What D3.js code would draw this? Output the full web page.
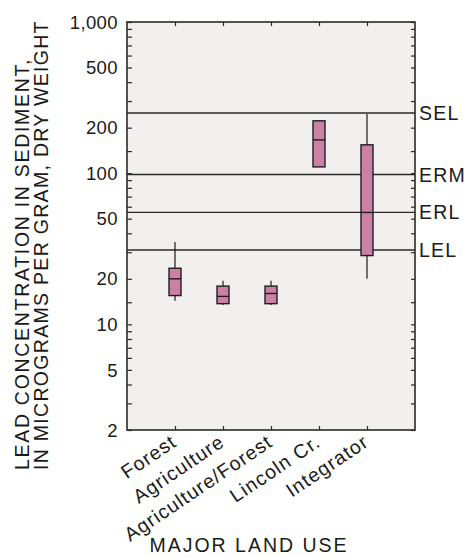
<!DOCTYPE html>
<html>
<head>
<meta charset="utf-8">
<script src="https://cdn.jsdelivr.net/npm/d3@7"></script>
<style>
  html, body { margin: 0; padding: 0; background: #ffffff; }
  svg { display: block; }
  text { font-family: "Liberation Sans", Arial, Helvetica, sans-serif; fill: #1a1a1a; }
</style>
</head>
<body>
<svg id="chart" width="467" height="558"></svg>
<script>
// Lead concentration in sediment by major land use (box plots, log scale)
const categories = ["Forest", "Agriculture", "Agriculture/Forest", "Lincoln Cr.", "Integrator"];
const whiskerLow  = [14.3, 13.4, 13.4, null, 20];
const quartile1   = [15.5, 13.7, 13.7, 110, 28.5];
const medians     = [20, 15.3, 16, 166, 55];
const quartile3   = [23.5, 17.9, 17.9, 222, 154];
const whiskerHigh = [35, 19.4, 19.4, null, 246];

// Sediment quality guideline levels
const guideNames  = ["SEL", "ERM", "ERL", "LEL"];
const guideValues = [250, 98, 55, 31];

// Axis ticks
const yTickValues = [2, 5, 10, 20, 50, 100, 200, 500, 1000];
const yTickLabels = ["2", "5", "10", "20", "50", "100", "200", "500", "1,000"];
const yMinorTicks = [3, 4, 6, 7, 8, 9, 14, 30, 40, 60, 70, 80, 90, 140, 300, 400, 600, 700, 800, 900];

// Axis titles
const yTitleLines = ["LEAD CONCENTRATION IN SEDIMENT,", "IN MICROGRAMS PER GRAM, DRY WEIGHT"];
const xTitle = "MAJOR LAND USE";

const svg = d3.select("#chart");
const plot = { left: 127, right: 415, top: 22, bottom: 430 };

const y = d3.scaleLog().domain([2, 1000]).range([plot.bottom, plot.top]);
const x = d3.scaleLinear().domain([0, categories.length + 1]).range([plot.left, plot.right]);
const xPos = (i) => x(i + 1);

// plot background
svg.append("rect")
  .attr("x", plot.left).attr("y", plot.top)
  .attr("width", plot.right - plot.left).attr("height", plot.bottom - plot.top)
  .attr("fill", "#f1f0ee");

// guideline lines
svg.append("g").selectAll("line").data(guideValues).join("line")
  .attr("x1", plot.left).attr("x2", plot.right)
  .attr("y1", d => y(d)).attr("y2", d => y(d))
  .attr("stroke", "#2a2a2a").attr("stroke-width", 1.4);

// guideline labels on the right
svg.append("g").selectAll("text").data(guideNames).join("text")
  .attr("x", plot.right + 4)
  .attr("y", (d, i) => y(guideValues[i]))
  .attr("dy", "0.36em")
  .attr("font-size", 19.5)
  .attr("letter-spacing", 1.2)
  .text(d => d);

// boxes
const boxW = 12;
const boxes = svg.append("g");
categories.forEach((c, i) => {
  const cx = xPos(i);
  if (whiskerHigh[i] != null) {
    boxes.append("line")
      .attr("x1", cx).attr("x2", cx)
      .attr("y1", y(whiskerHigh[i])).attr("y2", y(quartile3[i]))
      .attr("stroke", "#1a1a1a").attr("stroke-width", 1.2);
  }
  if (whiskerLow[i] != null) {
    boxes.append("line")
      .attr("x1", cx).attr("x2", cx)
      .attr("y1", y(quartile1[i])).attr("y2", y(whiskerLow[i]))
      .attr("stroke", "#1a1a1a").attr("stroke-width", 1.2);
  }
  boxes.append("rect")
    .attr("x", cx - boxW / 2).attr("width", boxW)
    .attr("y", y(quartile3[i])).attr("height", y(quartile1[i]) - y(quartile3[i]))
    .attr("fill", "#cc80a7").attr("stroke", "#1e1e1e").attr("stroke-width", 1.4);
  boxes.append("line")
    .attr("x1", cx - boxW / 2).attr("x2", cx + boxW / 2)
    .attr("y1", y(medians[i])).attr("y2", y(medians[i]))
    .attr("stroke", "#1e1e1e").attr("stroke-width", 1.4);
});

// left axis: labels and inward ticks
const yLeft = d3.axisRight(y).tickValues(yTickValues.concat(yMinorTicks)).tickSize(5).tickFormat("");
svg.append("g").attr("transform", `translate(${plot.left},0)`).call(yLeft)
  .call(g => g.select(".domain").remove())
  .selectAll("line").attr("stroke", "#2a2a2a").attr("stroke-width", 1.2);

svg.append("g").selectAll("text").data(yTickValues).join("text")
  .attr("x", plot.left - 9)
  .attr("y", d => y(d))
  .attr("dy", "0.36em")
  .attr("text-anchor", "end")
  .attr("font-size", 18.5)
  .attr("letter-spacing", 0.4)
  .text((d, i) => yTickLabels[i]);

// right axis inward ticks
const yRight = d3.axisLeft(y).tickValues(yTickValues.concat(yMinorTicks)).tickSize(4).tickFormat("");
svg.append("g").attr("transform", `translate(${plot.right},0)`).call(yRight)
  .call(g => g.select(".domain").remove())
  .selectAll("line").attr("stroke", "#2a2a2a").attr("stroke-width", 1.2);

// top and bottom inward ticks at categories
const xTicks = categories.map((c, i) => i + 1);
svg.append("g").attr("transform", `translate(0,${plot.bottom})`)
  .call(d3.axisTop(x).tickValues(xTicks).tickSize(4).tickFormat(""))
  .call(g => g.select(".domain").remove())
  .selectAll("line").attr("stroke", "#2a2a2a").attr("stroke-width", 1.2);
svg.append("g").attr("transform", `translate(0,${plot.top})`)
  .call(d3.axisBottom(x).tickValues(xTicks).tickSize(4).tickFormat(""))
  .call(g => g.select(".domain").remove())
  .selectAll("line").attr("stroke", "#2a2a2a").attr("stroke-width", 1.2);

// frame
svg.append("rect")
  .attr("x", plot.left).attr("y", plot.top)
  .attr("width", plot.right - plot.left).attr("height", plot.bottom - plot.top)
  .attr("fill", "none").attr("stroke", "#2a2a2a").attr("stroke-width", 1.6);

// category labels, rotated
svg.append("g").selectAll("text").data(categories).join("text")
  .attr("transform", (d, i) => `translate(${xPos(i) + 3},${plot.bottom + 15}) rotate(-34)`)
  .attr("text-anchor", "end")
  .attr("font-size", 19.5)
  .attr("letter-spacing", 1.1)
  .text(d => d);

// x-axis title
svg.append("text")
  .attr("x", 249).attr("y", 552)
  .attr("text-anchor", "middle")
  .attr("font-size", 19.5)
  .attr("letter-spacing", 2)
  .text(xTitle);

// y-axis title (two lines, starting from the bottom)
const yTitle = svg.append("text")
  .attr("transform", "translate(0,470) rotate(-90)")
  .attr("text-anchor", "start")
  .attr("font-size", 19.5);
yTitle.selectAll("tspan").data(yTitleLines).join("tspan")
  .attr("x", 0)
  .attr("y", (d, i) => 29 + i * 19)
  .attr("letter-spacing", (d, i) => i === 0 ? 1.7 : 1.3)
  .text(d => d);
</script>
</body>
</html>
